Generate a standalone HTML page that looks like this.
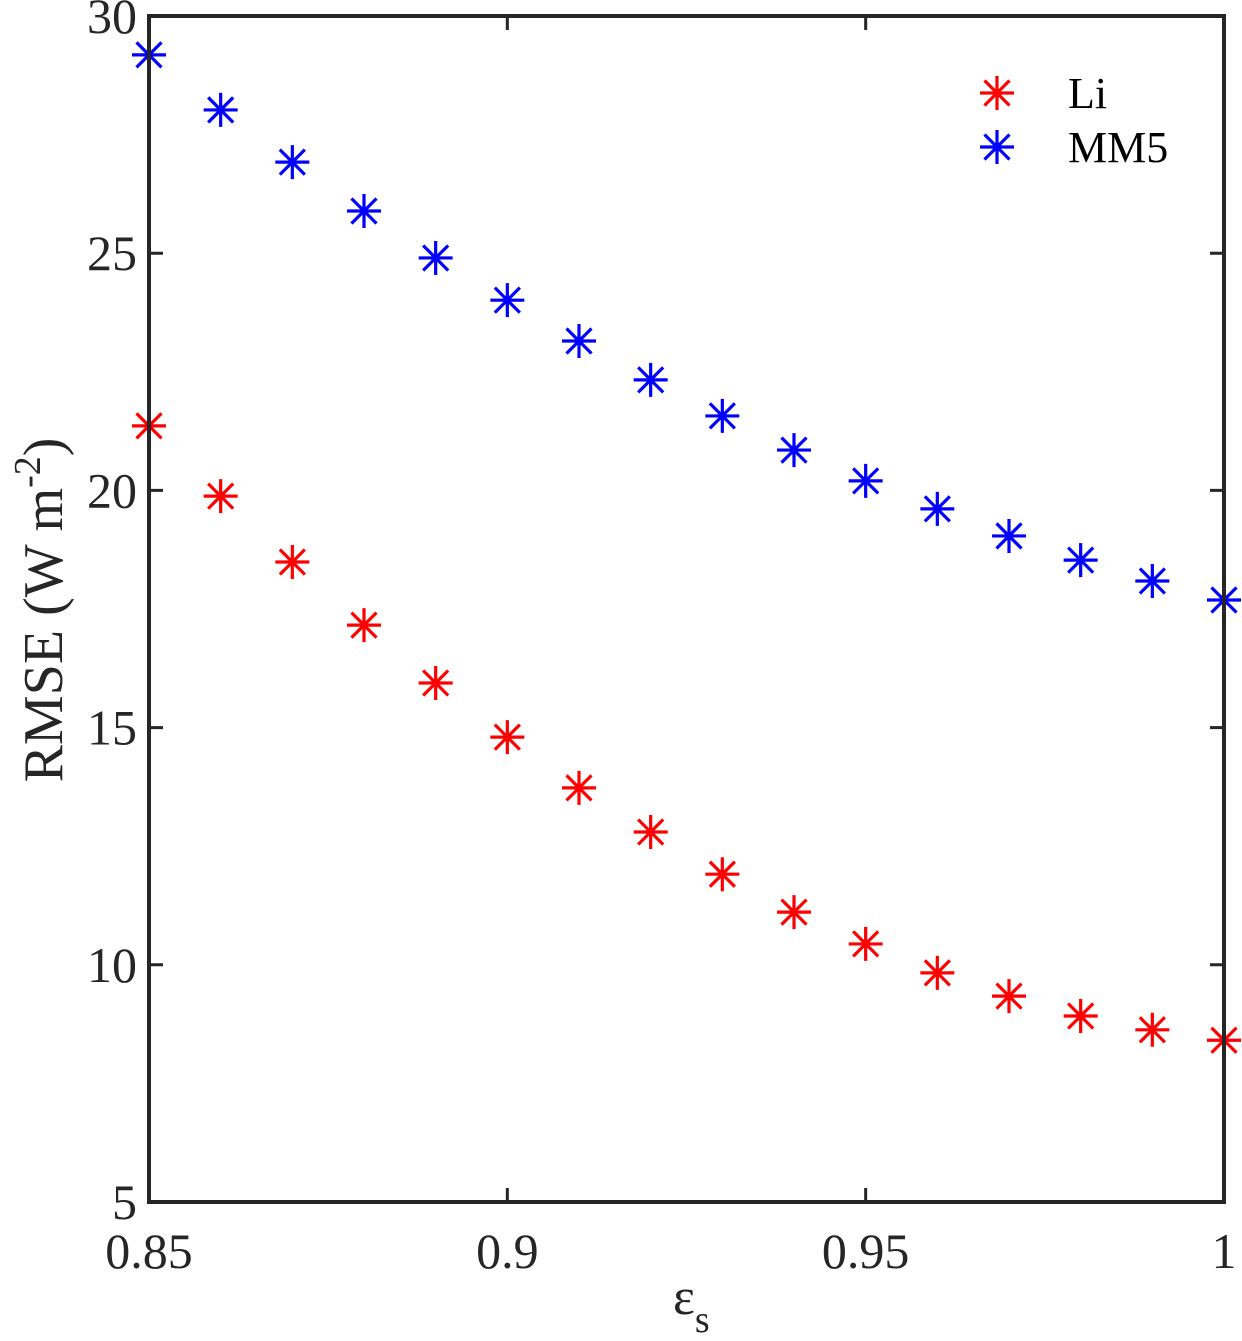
<!DOCTYPE html>
<html><head><meta charset="utf-8">
<style>
html,body{margin:0;padding:0;background:#fff;}
svg{display:block;font-family:"Liberation Serif",serif;}
</style></head>
<body>
<svg id="chart" width="1242" height="1341" viewBox="0 0 1242 1341" xmlns="http://www.w3.org/2000/svg">
<g id="plot"></g>
</svg>
<script>
const xValues = [0.85,0.86,0.87,0.88,0.89,0.90,0.91,0.92,0.93,0.94,0.95,0.96,0.97,0.98,0.99,1.00];
const liValues = [21.36,19.88,18.49,17.16,15.94,14.80,13.73,12.80,11.91,11.11,10.44,9.83,9.34,8.92,8.63,8.41];
const mm5Values = [29.18,28.02,26.92,25.89,24.90,24.01,23.15,22.33,21.57,20.85,20.20,19.61,19.04,18.53,18.09,17.69];
const xTicks = [0.85,0.9,0.95,1];
const xTickLabels = ["0.85","0.9","0.95","1"];
const yTicks = [5,10,15,20,25,30];
const yTickLabels = ["5","10","15","20","25","30"];

const L=149,R=1224,T=16,B=1202;
const xMin=0.85,xMax=1,yMin=5,yMax=30;
function sx(v){return L+(v-xMin)/(xMax-xMin)*(R-L);}
function sy(v){return B-(v-yMin)/(yMax-yMin)*(B-T);}
const NS="http://www.w3.org/2000/svg";
const g=document.getElementById('plot');
function el(tag,attrs,parent){const e=document.createElementNS(NS,tag);for(const k in attrs)e.setAttribute(k,attrs[k]);(parent||g).appendChild(e);return e;}

xTicks.forEach((t,i)=>{
  const x=sx(t);
  const tk=el('path',{d:`M${x},${B}V${B-14}M${x},${T}V${T+14}`,stroke:'#262626','stroke-width':3});
  
  
  const tx=el('text',{x:x,y:B+66,'text-anchor':'middle','font-size':50,fill:'#262626'});
  tx.textContent=xTickLabels[i];
  
  
});
yTicks.forEach((t,i)=>{
  const y=sy(t);
  const tk=el('path',{d:`M${L},${y}H${L+14}M${R},${y}H${R-14}`,stroke:'#262626','stroke-width':3});
  
  
  const tx=el('text',{x:L-12,y:y+17,'text-anchor':'end','font-size':50,fill:'#262626'});
  tx.textContent=yTickLabels[i];
  
  
});

function star(cx,cy,color,parent){
  const h=17,d=12.5;
  return el('path',{d:`M${cx-h},${cy}H${cx+h}M${cx},${cy-h}V${cy+h}M${cx-d},${cy-d}L${cx+d},${cy+d}M${cx-d},${cy+d}L${cx+d},${cy-d}`,stroke:color,'stroke-width':3.2,fill:'none'},parent);
}
xValues.forEach((xv,i)=>{
  const a=star(sx(xv),sy(liValues[i]),'#ff0000');
  
  
  const b=star(sx(xv),sy(mm5Values[i]),'#0000ff');
  
  
});

const fr=el('rect',{x:L,y:T,width:R-L,height:B-T,fill:'none',stroke:'#262626','stroke-width':4});



const lg=el('g',{});


const s1=star(997,93,'#ff0000',lg);


const t1=el('text',{x:1068,y:108,'font-size':44,fill:'#000'},lg);t1.textContent='Li';


const s2=star(997,147,'#0000ff',lg);


const t2=el('text',{x:1068,y:162,'font-size':44,fill:'#000'},lg);t2.textContent='MM5';


</script>
<svg style="position:absolute;left:0;top:0" width="1242" height="1341" xmlns="http://www.w3.org/2000/svg" font-family="Liberation Serif, serif">
<text transform="translate(62,610) rotate(-90)" text-anchor="middle" font-size="56" fill="#262626">RMSE (W m<tspan dy="-22" font-size="38">-2</tspan><tspan dy="22">)</tspan></text>
<text x="673" y="1314" font-size="52" fill="#262626">ε<tspan dy="18" font-size="38">s</tspan></text>
</svg>
</body></html>
